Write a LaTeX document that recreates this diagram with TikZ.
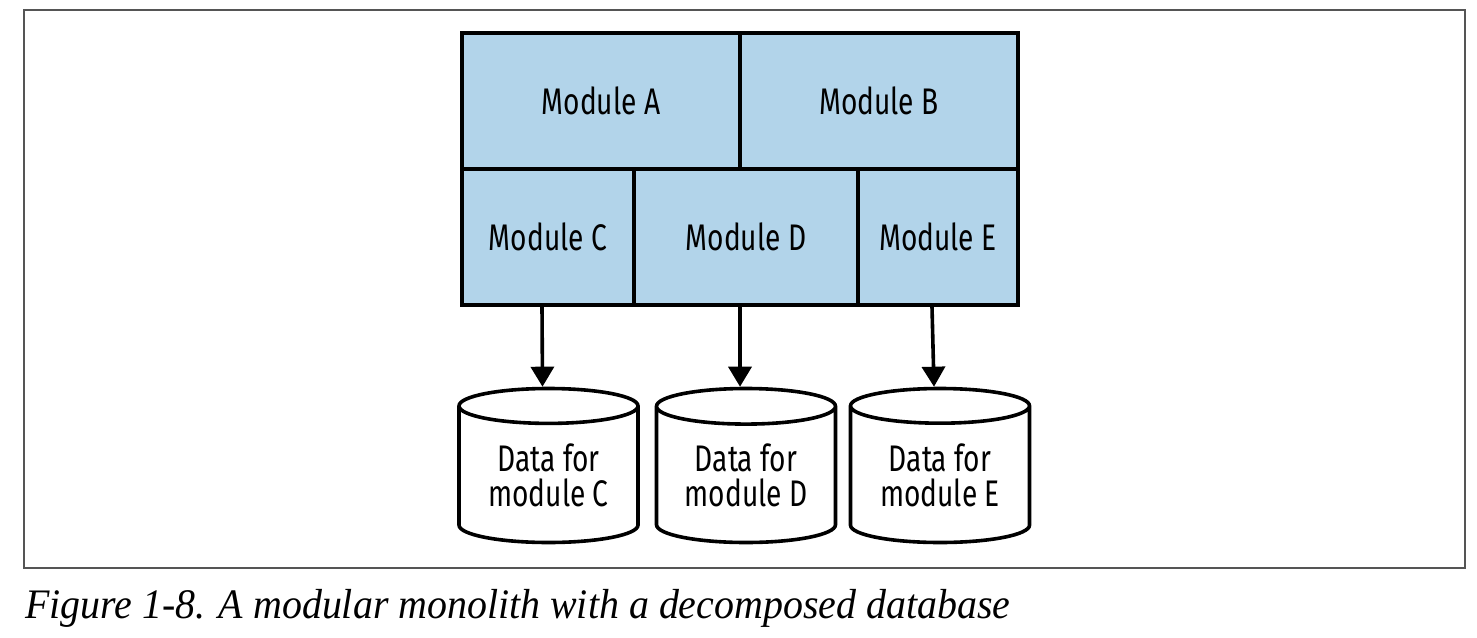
\documentclass[tikz,border=0pt]{standalone}
\usepackage{fontspec}
\setmainfont{Liberation Serif}
\newfontfamily\capfont[FakeStretch=0.95]{Liberation Serif}
\newfontfamily\modfont[FakeStretch=0.76]{Fira Sans}
\usetikzlibrary{shapes.geometric,arrows.meta}
\definecolor{modblue}{RGB}{178,212,234}
\definecolor{framegray}{RGB}{85,85,85}

\begin{document}
\begin{tikzpicture}[x=0.5pt,y=-0.5pt,
	module/.style={draw=black,fill=modblue,line width=2pt,minimum height=68pt,inner sep=0pt,font=\modfont\fontsize{18.5}{17.5}\selectfont},
	datastore/.style={draw=black,fill=white,line width=1.8pt,cylinder,shape border rotate=90,aspect=0.29,minimum width=89.5pt,minimum height=77pt,inner sep=0pt,anchor=shape center,align=center,font=\modfont\fontsize{18.5}{17.5}\selectfont},
	flow/.style={-{Triangle[width=11.5pt,length=10pt]},line width=1.8pt}]
	\useasboundingbox (0,0) rectangle (1477,637);
	% frame
	\draw [framegray, line width=1pt] (24,10) rectangle (1465,568);

	% modules, top row
	\node [module, minimum width=139pt] (modA) at (601,101) {Module A};
	\node [module, minimum width=139pt] (modB) at (879,101) {Module B};
	% modules, bottom row
	\node [module, minimum width=86pt] (modC) at (548,237) {Module C};
	\node [module, minimum width=112pt] (modD) at (746,237) {Module D};
	\node [module, minimum width=80pt] (modE) at (938,237) {Module E};

	% data
	\node [datastore] (dataC) at (548.5,465.5) {Data for\\module C};
	\node [datastore] (dataD) at (746,465.5) {Data for\\module D};
	\node [datastore] (dataE) at (940,465.5) {Data for\\module E};

	% |
	\draw [flow] ([xshift=-3pt]modC.south) -- ([xshift=-3pt]dataC.north);
	\draw [flow] ([xshift=-3pt]modD.south) -- ([xshift=-3pt]dataD.north);
	\draw [flow] ([xshift=-3pt]modE.south) -- ([xshift=-3pt]dataE.north);

	% caption
	\node [anchor=base west, inner sep=0pt, font=\capfont\itshape\fontsize{21}{25}\selectfont] (caption) at (25,618) {Figure 1-8. A modular monolith with a decomposed database};
\end{tikzpicture}
\end{document}
